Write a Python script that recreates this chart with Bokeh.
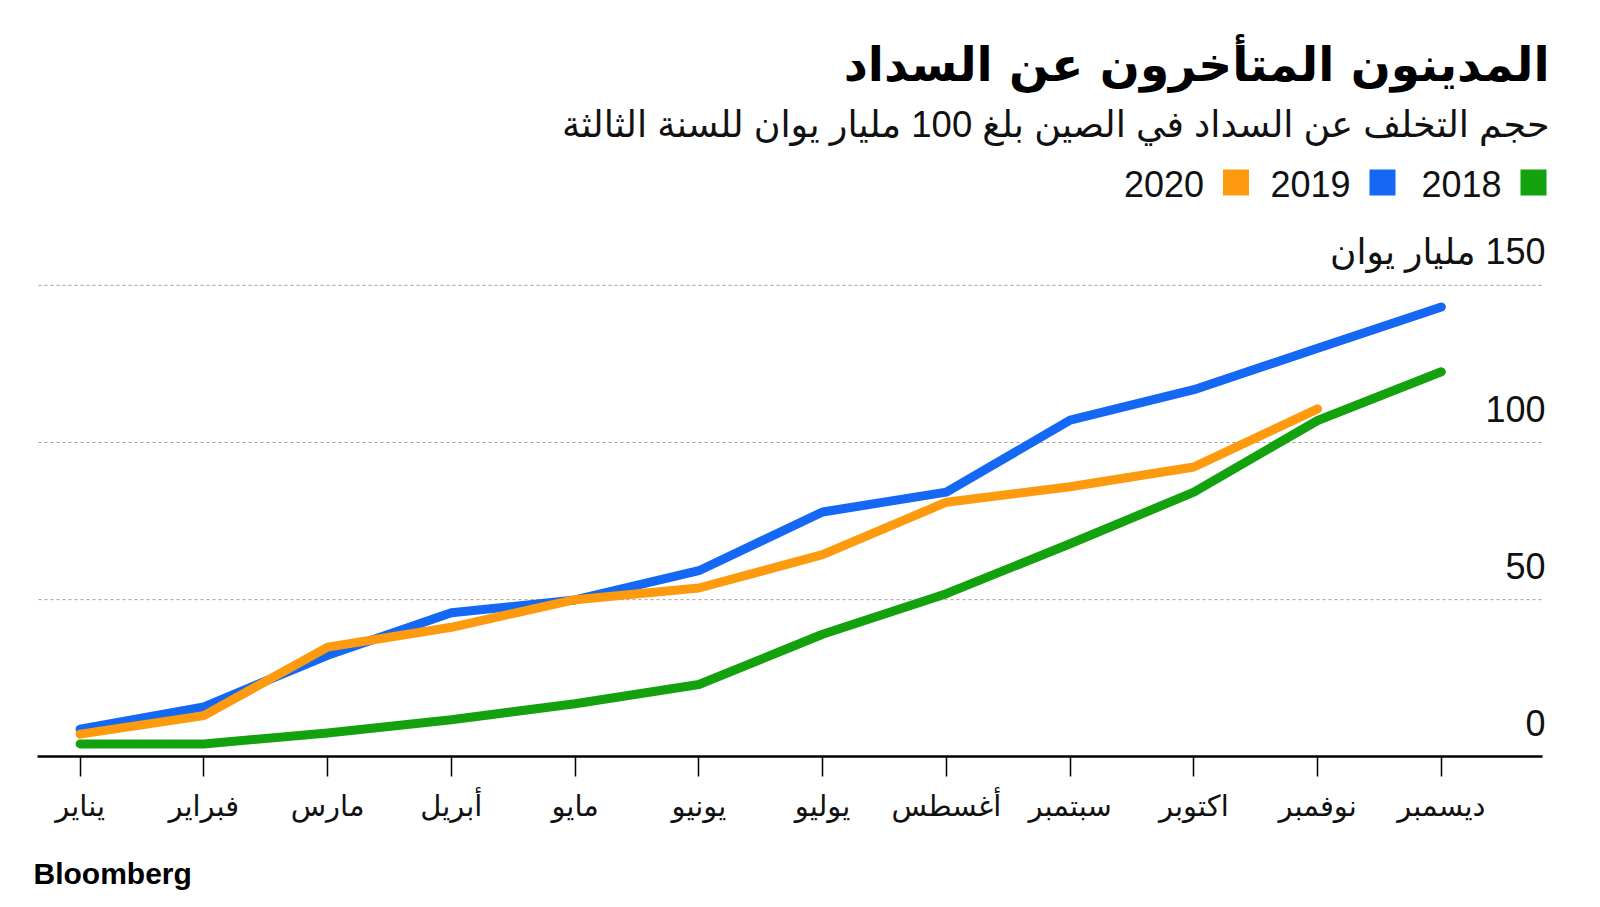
from bokeh.plotting import figure
from bokeh.models import Range1d, FixedTicker, LinearAxis
from bokeh.core.properties import value
from bokeh.embed import file_html
from bokeh.resources import INLINE

# ---------------- data ----------------
months = ["يناير", "فبراير", "مارس", "أبريل", "مايو", "يونيو",
          "يوليو", "أغسطس", "سبتمبر", "اكتوبر", "نوفمبر", "ديسمبر"]
years = ["2018", "2019", "2020"]
v2018 = [4.1, 4.1, 7.6, 11.8, 16.9, 23.0, 39.0, 51.9, 67.8, 84.2, 107.0, 122.5]
v2019 = [8.8, 15.9, 32.3, 45.8, 49.9, 59.2, 77.9, 84.2, 107.1, 116.8, 130.0, 143.1]
v2020 = [7.2, 13.1, 34.9, 41.2, 50.0, 53.7, 64.3, 81.0, 85.9, 92.2, 110.7]
y_ticks = [0, 50, 100, 150]
y_tick_labels = ["0", "50", "100", "\u200f150 مليار يوان"]

title = "المدينون المتأخرون عن السداد"
subtitle = "حجم التخلف عن السداد في الصين بلغ 100 مليار يوان للسنة الثالثة"
source = "Bloomberg"

colors = {"2018": "#13a10e", "2019": "#1468f4", "2020": "#fd9a0e"}

# ---------------- layout (screen pixels) ----------------
W, H = 1590, 900
X0_PX, DX_PX = 79.6, 123.75      # first month position, month spacing
Y0_PX, PX_PER_UNIT = 756.3, 3.143  # zero line position, px per unit


def dx(sx):
    """screen x pixel -> data x"""
    return (sx - X0_PX) / DX_PX


def dy(sy):
    """screen y pixel -> data y"""
    return (Y0_PX - sy) / PX_PER_UNIT


p = figure(width=W, height=H, output_backend="svg", toolbar_location=None,
           x_range=Range1d(dx(0), dx(W)), y_range=Range1d(dy(H), dy(0)),
           x_axis_location=None, y_axis_location=None,
           min_border=0, min_border_left=0, min_border_right=0,
           min_border_top=0, min_border_bottom=0)
p.outline_line_color = None
p.background_fill_color = "white"
p.border_fill_color = "white"
p.xgrid.visible = False
p.ygrid.visible = False

# dotted horizontal gridlines at the y ticks
p.segment(x0=dx(38), x1=dx(1543), y0=y_ticks, y1=y_ticks,
          line_color="#a0a0a0", line_width=1, line_dash="3 3")

# x axis at value 0
xa = LinearAxis(fixed_location=0, bounds=(dx(37), dx(1542)))
xa.ticker = FixedTicker(ticks=list(range(len(months))))
xa.major_label_overrides = {i: m for i, m in enumerate(months)}
xa.axis_line_color = "black"
xa.axis_line_width = 2.5
xa.major_tick_in = 0
xa.major_tick_out = 20
xa.major_tick_line_color = "black"
xa.major_tick_line_width = 1.5
xa.minor_tick_line_color = None
xa.major_label_standoff = 12
xa.major_label_text_font = "DejaVu Sans"
xa.major_label_text_font_size = "29px"
xa.major_label_text_color = "#111111"
p.add_layout(xa, "below")

# lines
xs = list(range(len(months)))
lw = 9
p.line(xs, v2019, line_color=colors["2019"], line_width=lw,
       line_cap="round", line_join="round")
p.line(xs, v2018, line_color=colors["2018"], line_width=lw,
       line_cap="round", line_join="round")
p.line(xs[:len(v2020)], v2020, line_color=colors["2020"], line_width=lw,
       line_cap="round", line_join="round")

# y tick labels (right side, above gridlines)
p.text(x=[dx(1545)] * len(y_ticks), y=y_ticks, text=y_tick_labels,
       y_offset=-34, text_align="right", text_baseline="alphabetic",
       text_font=value("Liberation Sans, DejaVu Sans"), text_font_size="36px",
       text_color="#111111")

# title & subtitle
p.text(x=[dx(1549)], y=[dy(64)], text=[title], text_align="right",
       text_baseline="alphabetic", text_font=value("DejaVu Sans"),
       text_font_style="bold", text_font_size="47px", text_color="black")
p.text(x=[dx(1549)], y=[dy(124)], text=[subtitle], text_align="right",
       text_baseline="alphabetic", text_font=value("Liberation Sans, DejaVu Sans"),
       text_font_size="36.5px", text_color="#111111")

# legend (text left of square, right-to-left order)
leg_sq_x = [1533, 1382, 1235.5]
for yr, sxp in zip(years, leg_sq_x):
    p.scatter([dx(sxp)], [dy(182)], marker="square", size=26,
              fill_color=colors[yr], line_color=None)
    p.text([dx(sxp - 32)], [dy(183)], text=[yr], text_align="right",
           text_baseline="alphabetic", text_font=value("Liberation Sans"),
           text_font_size="36px", text_color="#111111")

# source
p.text([dx(33)], [dy(873)], text=[source], text_align="left",
       text_baseline="alphabetic", text_font=value("Liberation Sans"),
       text_font_style="bold", text_font_size="30px", text_color="black")

open("out.html", "w").write(file_html(p, INLINE))
